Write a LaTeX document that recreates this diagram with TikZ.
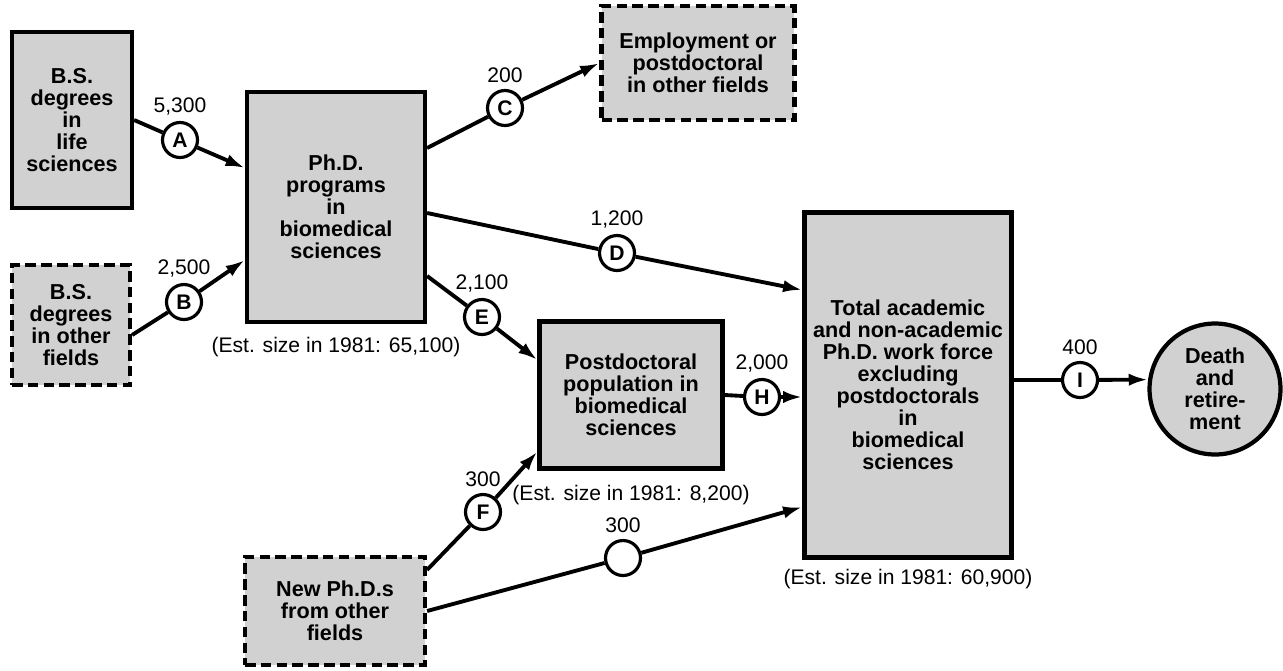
\documentclass[tikz,border=0pt]{standalone}
\usepackage{fontspec}
\setmainfont{Liberation Sans}
\usetikzlibrary{arrows.meta, positioning}
\definecolor{boxgray}{gray}{0.82}
\newcommand{\boxfont}{\bfseries\fontsize{12.3}{12.5}\selectfont}
\newcommand{\numfont}{\fontsize{12}{14}\selectfont}

\begin{document}
\begin{tikzpicture}[x=0.02cm, y=-0.02cm,
    stock/.style={draw, line width=2.4pt, fill=boxgray, align=center, font=\boxfont, inner sep=2pt},
    outside/.style={stock, dash pattern=on 6pt off 3pt},
    flow/.style={circle, draw, line width=1.8pt, fill=white, minimum size=0.7cm, inner sep=0pt,
        font=\bfseries\fontsize{12}{12}\selectfont, label distance=0pt},
    every label/.style={font=\numfont},
    pipe/.style={line width=2.2pt},
    feed/.style={pipe, -{Latex[length=11pt,width=7pt]}},
    est/.style={font=\numfont, inner sep=1pt}]
    % 固定画布大小
    \useasboundingbox (0,0) rectangle (1283,670);
    % 绘制各个方框
    \node[stock, minimum width=2.4cm, minimum height=3.52cm] (life) at (72,120) {B.S.\\degrees\\in\\life\\sciences};
    \node[outside, minimum width=2.36cm, minimum height=2.4cm] (other) at (71,325) {B.S.\\degrees\\in other\\fields};
    \node[stock, minimum width=3.56cm, minimum height=4.6cm] (phd) at (336,207) {Ph.D.\\programs\\in\\biomedical\\sciences};
    \node[outside, minimum width=3.86cm, minimum height=2.28cm] (employ) at (698,63) {Employment or\\postdoctoral\\in other fields};
    \node[stock, minimum width=3.66cm, minimum height=2.94cm] (postdoc) at (631,395) {Postdoctoral\\population in\\biomedical\\sciences};
    \node[stock, minimum width=4.14cm, minimum height=6.9cm] (total) at (908,385) {Total academic\\and non-academic\\Ph.D. work force\\excluding\\postdoctorals\\in\\biomedical\\sciences};
    \node[stock, circle, minimum size=2.62cm, inner sep=0pt] (death) at (1215,389) {Death\\and\\retire-\\ment};
    \node[outside, minimum width=3.6cm, minimum height=2.16cm] (newphd) at (335,611) {New Ph.D.s\\from other\\fields};
    % 标注估计规模
    \node[est, below=6pt of phd] (phdsize) {(Est. size in 1981: 65,100)};
    \node[est, below=7pt of postdoc] (postdocsize) {(Est. size in 1981: 8,200)};
    \node[est, below=4pt of total] (totalsize) {(Est. size in 1981: 60,900)};
    % 绘制流量圆圈
    \node[flow, label={above:{5,300}}] (A) at (180,140) {A};
    \node[flow, label={above:{2,500}}] (B) at (184,302) {B};
    \node[flow, label={above:{200}}] (C) at (505,108) {C};
    \node[flow, label={above:{1,200}}] (D) at (617,253) {D};
    \node[flow, label={above:{2,100}}] (E) at (482,317) {E};
    \node[flow, label={above:{300}}] (F) at (483,512) {F};
    \node[flow, label={above:{300}}] (G) at (623,558) {};
    \node[flow, label={above:{2,000}}] (H) at (762,397) {H};
    \node[flow, label={above:{400}}] (I) at (1080,380) {I};
    % 绘制连线
    \draw[pipe] (life.east) -- (A);
    \draw[feed] (A) -- ([yshift=0.78cm]phd.west);
    \draw[pipe] ([yshift=-0.2cm]other.east) -- (B);
    \draw[feed] (B) -- ([yshift=-1.06cm]phd.west);
    \draw[pipe] ([yshift=1.18cm]phd.east) -- (C);
    \draw[feed] (C) -- (employ.west);
    \draw[pipe] ([yshift=-0.12cm]phd.east) -- (D);
    \draw[feed] (D) -- ([yshift=1.9cm]total.west);
    \draw[pipe] ([yshift=-1.38cm]phd.east) -- (E);
    \draw[feed] (E) -- ([yshift=0.7cm]postdoc.west);
    \draw[pipe] ([yshift=-0.3cm]newphd.north east) -- (F);
    \draw[feed] (F) -- ([yshift=0.38cm]postdoc.south west);
    \draw[pipe] (newphd.east) -- (G);
    \draw[feed] (G) -- ([yshift=-2.44cm]total.west);
    \draw[pipe] (postdoc.east) -- (H);
    \draw[feed] (H) -- ([yshift=-0.24cm]total.west);
    \draw[pipe] ([yshift=0.1cm]total.east) -- (I);
    \draw[feed] (I) -- (death.172);
\end{tikzpicture}
\end{document}
